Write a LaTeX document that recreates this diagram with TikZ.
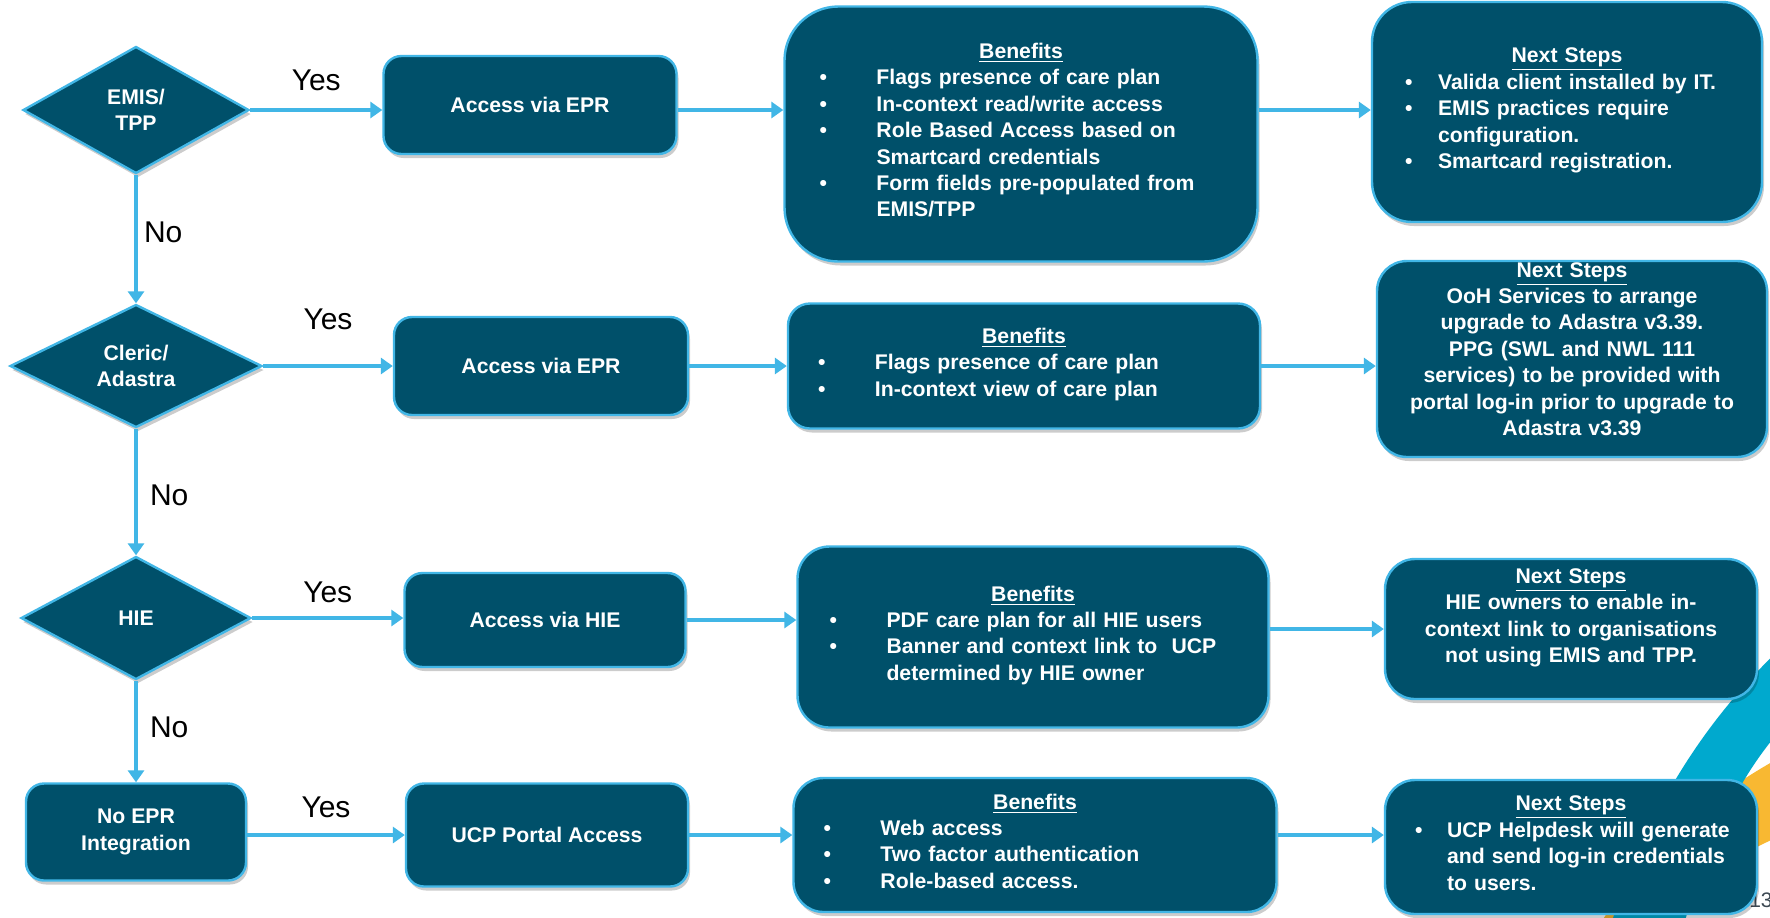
\documentclass[tikz,border=0pt]{standalone}
\usepackage{fontspec}
\setmainfont{Liberation Sans}
\usetikzlibrary{shapes.geometric,arrows.meta,shadows}
\definecolor{ucpteal}{RGB}{0,80,106}
\definecolor{ucpblue}{RGB}{65,182,230}
\definecolor{ucpcyan}{RGB}{0,169,206}
\definecolor{ucporange}{RGB}{248,184,50}
\definecolor{pagegrey}{RGB}{60,72,82}
\newcommand{\boxfont}{\bfseries\fontsize{10.6}{13.2}\selectfont\lineskip=0pt\relax}
\newcommand{\bitem}[3]{\par\noindent\makebox[#1][l]{\textbullet}\parbox[t]{#2}{\raggedright\strut#3\strut}\par}

\begin{document}
\begin{tikzpicture}[
    x=0.5pt, y=-0.5pt,
    box/.style={rectangle, draw=ucpblue, line width=1.2pt, fill=ucpteal, rounded corners=9pt, text=white, font=\boxfont, align=center, inner sep=0pt, drop shadow={shadow xshift=1pt, shadow yshift=-2pt, opacity=0.2, fill=black}},
    decision/.style={box, diamond, rounded corners=0pt},
    arrow/.style={-{Triangle[length=6pt,width=8pt]}, line width=2pt, draw=ucpblue},
    answer/.style={font=\fontsize{15}{18}\selectfont, inner sep=0pt}
]
    \useasboundingbox (0,0) rectangle (1770,917);
    \fill[white] (0,0) rectangle (1770,917);

    % Background swoosh
    \begin{scope}
        \clip (0,0) rectangle (1770,917);
        \fill[ucporange] (1578,960) .. controls (1640,850) and (1710,795) .. (1790,752) -- (1790,832) .. controls (1720,860) and (1670,900) .. (1640,960) -- cycle;
        \fill[ucpcyan] (1600,960) .. controls (1640,820) and (1700,720) .. (1800,630) -- (1800,710) .. controls (1745,760) and (1700,850) .. (1675,960) -- cycle;
    \end{scope}
    \node[anchor=east, text=pagegrey, font=\fontsize{10.5}{12}\selectfont, inner sep=0pt] (pagenum) at (1773,900) {13};

    % Decisions
    \node[decision, minimum width=113pt, minimum height=63.5pt] (emis) at (136,110) {EMIS/\\TPP};
    \node[decision, minimum width=126pt, minimum height=61.5pt] (cleric) at (136,366) {Cleric/\\Adastra};
    \node[decision, minimum width=115pt, minimum height=61.5pt] (hie) at (136,618) {HIE};
    \node[box, minimum width=110pt, minimum height=48.5pt] (noepr) at (136,832) {No EPR\\Integration};

    % Access routes
    \node[box, minimum width=146.5pt, minimum height=49pt] (acc1) at (530,105) {Access via EPR};
    \node[box, minimum width=147pt, minimum height=49pt] (acc2) at (541,366) {Access via EPR};
    \node[box, minimum width=140.5pt, minimum height=47pt] (acc3) at (545,620) {Access via HIE};
    \node[box, minimum width=141pt, minimum height=51.5pt] (ucp) at (547,835) {UCP Portal Access};

    % Benefits
    \node[box, align=left, rounded corners=27pt, text width=201.5pt, inner xsep=17.5pt, minimum width=236.5pt, minimum height=127.5pt] (ben1) at (1021,134) {%
        \centerline{\underline{Benefits}}
        \bitem{28.5pt}{173pt}{Flags presence of care plan}
        \bitem{28.5pt}{173pt}{In-context read/write access}
        \bitem{28.5pt}{173pt}{Role Based Access based on\newline Smartcard credentials}
        \bitem{28.5pt}{173pt}{Form fields pre-populated from\newline EMIS/TPP}};
    \node[box, align=left, rounded corners=11pt, text width=206pt, inner xsep=15pt, minimum width=236pt, minimum height=62.5pt] (ben2) at (1024,366) {%
        \centerline{\underline{Benefits}}
        \bitem{28.5pt}{175pt}{Flags presence of care plan}
        \bitem{28.5pt}{175pt}{In-context view of care plan}};
    \node[box, align=left, rounded corners=16pt, text width=203.5pt, inner xsep=16pt, minimum width=235.5pt, minimum height=90.5pt] (ben3) at (1033,637) {%
        \centerline{\underline{Benefits}}
        \bitem{28.5pt}{175pt}{PDF care plan for all HIE users}
        \bitem{28.5pt}{175pt}{Banner and context link to\ \ UCP\newline determined by HIE owner}};
    \node[box, align=left, rounded corners=15pt, text width=211.5pt, inner xsep=15pt, minimum width=241.5pt, minimum height=67pt] (ben4) at (1035,845) {%
        \centerline{\underline{Benefits}}
        \bitem{28.5pt}{180pt}{Web access}
        \bitem{28.5pt}{180pt}{Two factor authentication}
        \bitem{28.5pt}{180pt}{Role-based access.}};

    % Next steps
    \node[box, align=left, rounded corners=20pt, text width=162pt, inner xsep=16.5pt, minimum width=195pt, minimum height=110pt] (next1) at (1567,112) {%
        \centerline{\underline{Next Steps}}
        \bitem{16.5pt}{150pt}{Valida client installed by IT.}
        \bitem{16.5pt}{150pt}{EMIS practices require\newline configuration.}
        \bitem{16.5pt}{150pt}{Smartcard registration.}};
    \node[box, rounded corners=15pt, text width=179pt, inner xsep=8pt, minimum width=195pt, minimum height=98pt] (next2) at (1572,359) {%
        \underline{Next Steps}\\OoH Services to arrange\\upgrade to Adastra v3.39.\\PPG (SWL and NWL 111\\services) to be provided with\\portal log-in prior to upgrade to\\Adastra v3.39\par\vspace*{10pt}};
    \node[box, rounded corners=15pt, text width=170pt, inner xsep=8pt, minimum width=186pt, minimum height=70pt] (next3) at (1571,629) {%
        \underline{Next Steps}\\HIE owners to enable in-\\context link to organisations\\not using EMIS and TPP.\par\vspace*{11pt}};
    \node[box, align=left, rounded corners=15pt, text width=156pt, inner xsep=15pt, minimum width=186pt, minimum height=67pt] (next4) at (1571,847) {%
        \centerline{\underline{Next Steps}}
        \bitem{16pt}{150pt}{UCP Helpdesk will generate\newline and send log-in credentials\newline to users.}};

    % Yes branches
    \draw[arrow] (emis.east) -- (emis.east -| acc1.west) node[answer, midway, above=8.5pt] (yes1) {Yes};
    \draw[arrow] (emis.east -| acc1.east) -- (emis.east -| ben1.west);
    \draw[arrow] (emis.east -| ben1.east) -- (emis.east -| next1.west);

    \draw[arrow] (cleric.east) -- (acc2.west) node[answer, midway, above=17pt] (yes2) {Yes};
    \draw[arrow] (acc2.east) -- (acc2.east -| ben2.west);
    \draw[arrow] (acc2.east -| ben2.east) -- (acc2.east -| next2.west);

    \draw[arrow] (hie.east) -- (hie.east -| acc3.west) node[answer, midway, above=6.5pt] (yes3) {Yes};
    \draw[arrow] (acc3.east) -- (acc3.east -| ben3.west);
    \draw[arrow] (next3.west -| ben3.east) -- (next3.west);

    \draw[arrow] (ucp.west -| noepr.east) -- (ucp.west) node[answer, midway, above=7.5pt] (yes4) {Yes};
    \draw[arrow] (ucp.east) -- (ucp.east -| ben4.west);
    \draw[arrow] (ucp.east -| ben4.east) -- (ucp.east -| next4.west);

    % No branches
    \draw[arrow] (emis.south) -- (cleric.north) node[answer, pos=0.45, right=3pt] (no1) {No};
    \draw[arrow] (cleric.south) -- (hie.north) node[answer, pos=0.53, right=6pt] (no2) {No};
    \draw[arrow] (hie.south) -- (noepr.north) node[answer, pos=0.46, right=6pt] (no3) {No};
\end{tikzpicture}
\end{document}
